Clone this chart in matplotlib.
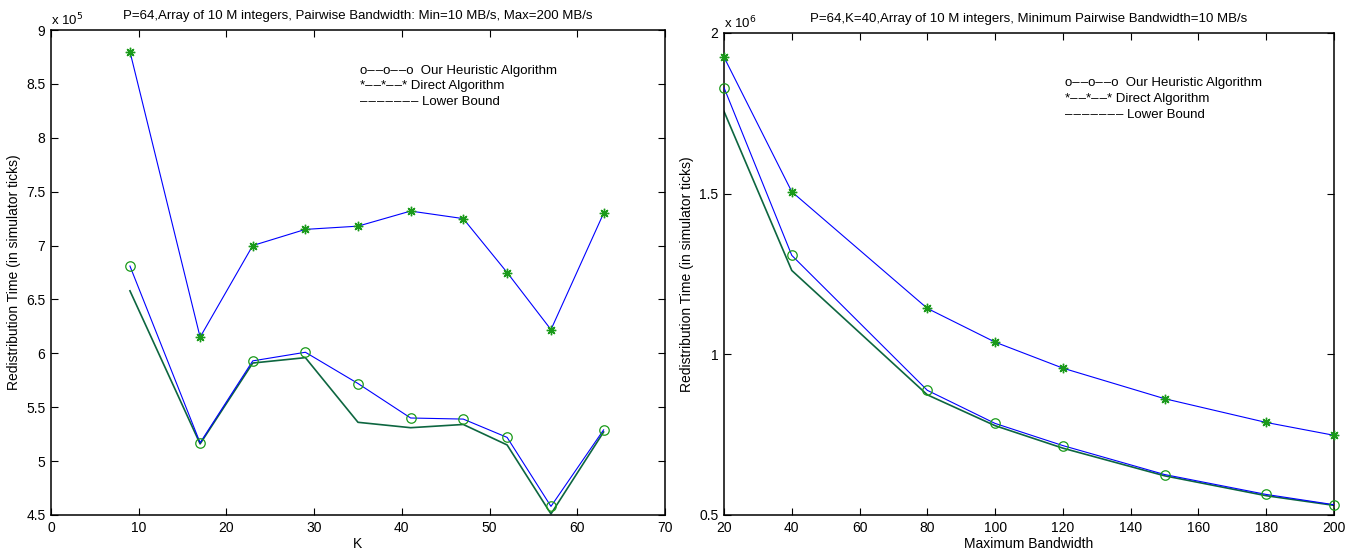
import matplotlib
matplotlib.use("Agg")
import matplotlib.pyplot as plt

plt.rcParams['font.family'] = ['Liberation Sans', 'DejaVu Sans']

# ---- Left panel data (y in units of 1e5 simulator ticks) ----
k_values = [9, 17, 23, 29, 35, 41, 47, 52, 57, 63]
left_direct = [8.80, 6.15, 7.00, 7.15, 7.18, 7.32, 7.25, 6.75, 6.22, 7.30]
left_heuristic = [6.81, 5.17, 5.93, 6.01, 5.72, 5.40, 5.39, 5.22, 4.58, 5.29]
left_lower = [6.58, 5.16, 5.91, 5.96, 5.36, 5.31, 5.34, 5.15, 4.51, 5.27]
left_yticks = [4.5, 5, 5.5, 6, 6.5, 7, 7.5, 8, 8.5, 9]
left_xticks = [0, 10, 20, 30, 40, 50, 60, 70]

# ---- Right panel data (y in units of 1e6 simulator ticks) ----
max_bw = [20, 40, 80, 100, 120, 150, 180, 200]
right_direct = [1.925, 1.506, 1.143, 1.038, 0.957, 0.862, 0.788, 0.748]
right_heuristic = [1.830, 1.308, 0.888, 0.785, 0.716, 0.626, 0.564, 0.532]
right_lower = [1.756, 1.261, 0.874, 0.778, 0.708, 0.622, 0.560, 0.530]
right_yticks = [0.5, 1, 1.5, 2]
right_xticks = [20, 40, 60, 80, 100, 120, 140, 160, 180, 200]

D = "\u2013"
HS = "\u200a"
legend_lines = ["o" + D + HS + D + "o" + D + HS + D + "o  Our Heuristic Algorithm",
                "*" + D + HS + D + "*" + D + HS + D + "* Direct Algorithm",
                HS.join([D] * 7) + " Lower Bound"]

BLUE = '#0000ff'
GREEN = '#1a9a1a'
DKGREEN = '#0d6640'
W, H = 1352, 554

fig = plt.figure(figsize=(W / 100, H / 100), dpi=100)


def px_axes(x0, y0, x1, y1):
    return fig.add_axes([x0 / W, 1 - y1 / H, (x1 - x0) / W, (y1 - y0) / H])


def style(ax):
    for s in ax.spines.values():
        s.set_linewidth(1.1)
    ax.tick_params(direction='in', length=5, width=0.8, top=True, right=True,
                   labelsize=10, pad=4)
    ax.set_facecolor('white')


def draw(ax, x, direct, heur, lower):
    ax.plot(x, lower, color=DKGREEN, lw=1.2, zorder=2)
    ax.plot(x, heur, color=BLUE, lw=0.8, zorder=3)
    ax.plot(x, direct, color=BLUE, lw=0.8, zorder=3)
    ax.plot(x, heur, linestyle='none', marker='o', ms=6.8, mfc='none',
            mec=GREEN, mew=0.9, zorder=4, clip_on=False)
    ax.plot(x, direct, linestyle='none', marker=(8, 2, 0), ms=6.8,
            mec=GREEN, mew=1.0, zorder=4, clip_on=False)


# ---- Left axes ----
ax1 = px_axes(51, 30, 665, 515)
style(ax1)
draw(ax1, k_values, left_direct, left_heuristic, left_lower)
ax1.set_xlim(0, 70)
ax1.set_ylim(4.5, 9)
ax1.set_xticks(left_xticks)
ax1.set_yticks(left_yticks)
ax1.set_yticklabels(['%g' % v for v in left_yticks])
ax1.set_xlabel('K', fontsize=10, labelpad=2)
ax1.set_ylabel('Redistribution Time (in simulator ticks)', fontsize=10, labelpad=4)
ax1.set_title('P=64,Array of 10 M integers, Pairwise Bandwidth: Min=10 MB/s, Max=200 MB/s',
              fontsize=9.5, pad=8)
fig.text(51 / W, 1 - 20 / H, r'x 10$^{5}$', fontsize=9.5, ha='left', va='center')
for i, t in enumerate(legend_lines):
    fig.text(360 / W, 1 - (71 + 15.5 * i) / H, t, fontsize=9.5, ha='left', va='center')

# ---- Right axes ----
ax2 = px_axes(724, 33, 1334, 515)
style(ax2)
draw(ax2, max_bw, right_direct, right_heuristic, right_lower)
ax2.set_xlim(20, 200)
ax2.set_ylim(0.5, 2)
ax2.set_xticks(right_xticks)
ax2.set_yticks(right_yticks)
ax2.set_yticklabels(['%g' % v for v in right_yticks])
ax2.set_xlabel('Maximum Bandwidth', fontsize=10, labelpad=2)
ax2.set_ylabel('Redistribution Time (in simulator ticks)', fontsize=10, labelpad=4)
ax2.set_title('P=64,K=40,Array of 10 M integers, Minimum Pairwise Bandwidth=10 MB/s',
              fontsize=9.5, pad=8)
fig.text(724 / W, 1 - 23 / H, r'x 10$^{6}$', fontsize=9.5, ha='left', va='center')
for i, t in enumerate(legend_lines):
    fig.text(1065 / W, 1 - (83 + 16 * i) / H, t, fontsize=9.5, ha='left', va='center')

fig.savefig('out.png', dpi=100, facecolor='white')
